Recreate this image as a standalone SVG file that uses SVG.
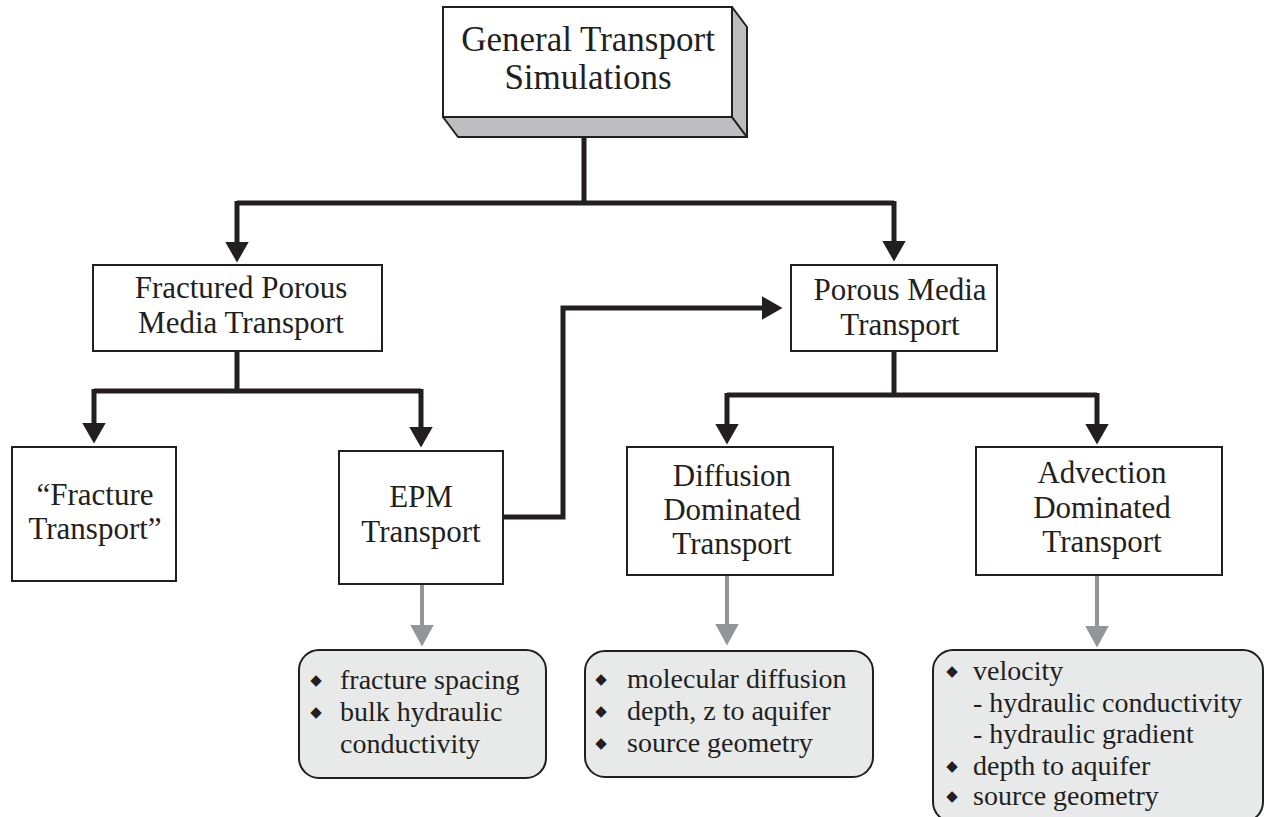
<svg xmlns="http://www.w3.org/2000/svg" width="1264" height="817" viewBox="0 0 1264 817">
<style>
.box{fill:#ffffff;stroke:#231f20;stroke-width:2}
.det{fill:#e8e9e9;stroke:#231f20;stroke-width:2}
.side{fill:#bcbec0;stroke:#231f20;stroke-width:2;stroke-linejoin:round}
.t{font-family:"Liberation Serif","Times New Roman",serif;fill:#231f20;text-anchor:middle}
.big{font-size:35px}
.mid{font-size:31px}
.d{font-family:"Liberation Serif","Times New Roman",serif;font-size:28px;fill:#231f20}
.b{font-family:"DejaVu Sans",sans-serif;font-size:15px;fill:#231f20;text-anchor:middle}
.c{fill:none;stroke:#231f20;stroke-width:5;stroke-linejoin:miter}
.g{fill:none;stroke:#939598;stroke-width:4}
</style>
<defs>
<marker id="ah" markerUnits="userSpaceOnUse" markerWidth="22" markerHeight="24" refX="0.5" refY="12" orient="auto" viewBox="0 0 22 24">
<path d="M0,0 L21,12 L0,24 z" fill="#231f20"/>
</marker>
<marker id="gh" markerUnits="userSpaceOnUse" markerWidth="23" markerHeight="24" refX="0.5" refY="12" orient="auto" viewBox="0 0 23 24">
<path d="M0,0 L22,12 L0,24 z" fill="#939598"/>
</marker>
</defs>

<g id="connectors">
<path class="c" d="M584,137 V203"/>
<path class="c" d="M237,203 H894"/>
<path class="c" d="M237,201 V242" marker-end="url(#ah)"/>
<path class="c" d="M894,201 V241" marker-end="url(#ah)"/>
<path class="c" d="M237,351 V391"/>
<path class="c" d="M94,391 H421"/>
<path class="c" d="M94,389 V423" marker-end="url(#ah)"/>
<path class="c" d="M421,389 V427" marker-end="url(#ah)"/>
<path class="c" d="M503,517 H563 V308 H762" marker-end="url(#ah)"/>
<path class="c" d="M894,351 V395"/>
<path class="c" d="M727,395 H1097"/>
<path class="c" d="M727,393 V424" marker-end="url(#ah)"/>
<path class="c" d="M1097,393 V424" marker-end="url(#ah)"/>
<path class="g" d="M422,584 V625" marker-end="url(#gh)"/>
<path class="g" d="M727,576 V624" marker-end="url(#gh)"/>
<path class="g" d="M1097,576 V626" marker-end="url(#gh)"/>
</g>

<g id="general">
<polygon class="side" points="443,117 732,117 747,137 458,137"/>
<polygon class="side" points="732,7 747,27 747,137 732,117"/>
<rect class="box" x="443" y="7" width="289" height="110"/>
<text class="t big" x="588" y="51">General Transport</text>
<text class="t big" x="588" y="89">Simulations</text>
</g>

<g id="fractured-porous">
<rect class="box" x="93" y="265" width="289" height="86"/>
<text class="t mid" x="241" y="298">Fractured Porous</text>
<text class="t mid" x="241" y="333">Media Transport</text>
</g>

<g id="porous-media">
<rect class="box" x="791" y="265" width="206" height="86"/>
<text class="t mid" x="900" y="300">Porous Media</text>
<text class="t mid" x="900" y="335">Transport</text>
</g>

<g id="fracture-transport">
<rect class="box" x="12" y="447" width="164" height="134"/>
<text class="t mid" x="95" y="505">“Fracture</text>
<text class="t mid" x="95" y="539">Transport”</text>
</g>

<g id="epm">
<rect class="box" x="339" y="451" width="164" height="133"/>
<text class="t mid" x="421" y="507">EPM</text>
<text class="t mid" x="421" y="542">Transport</text>
</g>

<g id="diffusion">
<rect class="box" x="627" y="447" width="206" height="128"/>
<text class="t mid" x="732" y="486">Diffusion</text>
<text class="t mid" x="732" y="520">Dominated</text>
<text class="t mid" x="732" y="554">Transport</text>
</g>

<g id="advection">
<rect class="box" x="976" y="447" width="246" height="128"/>
<text class="t mid" x="1102" y="483">Advection</text>
<text class="t mid" x="1102" y="518">Dominated</text>
<text class="t mid" x="1102" y="552">Transport</text>
</g>

<g id="epm-details">
<rect class="det" x="299" y="650" width="247" height="128" rx="20"/>
<text class="b" x="316" y="685">◆</text>
<text class="b" x="316" y="717">◆</text>
<text class="d" x="340" y="689">fracture spacing</text>
<text class="d" x="340" y="721">bulk hydraulic</text>
<text class="d" x="340" y="753">conductivity</text>
</g>

<g id="diffusion-details">
<rect class="det" x="585" y="651" width="288" height="126" rx="20"/>
<text class="b" x="601" y="684">◆</text>
<text class="b" x="601" y="716">◆</text>
<text class="b" x="601" y="748">◆</text>
<text class="d" x="627" y="688">molecular diffusion</text>
<text class="d" x="627" y="720">depth, z to aquifer</text>
<text class="d" x="627" y="752">source geometry</text>
</g>

<g id="advection-details">
<rect class="det" x="933" y="650" width="330" height="172" rx="20"/>
<text class="b" x="952" y="676">◆</text>
<text class="b" x="952" y="771">◆</text>
<text class="b" x="952" y="801">◆</text>
<text class="d" x="973" y="680">velocity</text>
<text class="d" x="973" y="712">- hydraulic conductivity</text>
<text class="d" x="973" y="743">- hydraulic gradient</text>
<text class="d" x="973" y="775">depth to aquifer</text>
<text class="d" x="973" y="805">source geometry</text>
</g>
</svg>
